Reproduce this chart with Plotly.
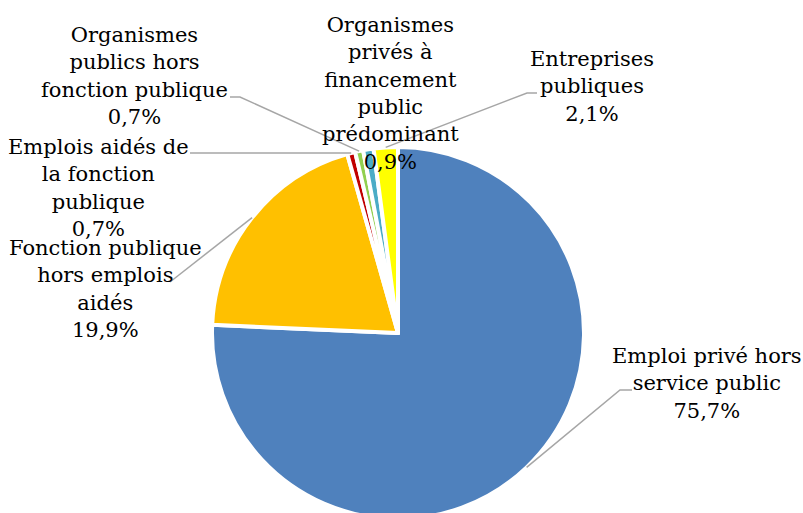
import math
import plotly.graph_objects as go

# Répartition de l'emploi selon le type d'employeur (en %)
categories = [
    "Emploi privé hors service public",
    "Fonction publique hors emplois aidés",
    "Emplois aidés de la fonction publique",
    "Organismes publics hors fonction publique",
    "Organismes privés à financement public prédominant",
    "Entreprises publiques",
]
shares = [75.7, 19.9, 0.7, 0.7, 0.9, 2.1]
wrapped_names = [
    ["Emploi privé hors", "service public"],
    ["Fonction publique", "hors emplois", "aidés"],
    ["Emplois aidés de", "la fonction", "publique"],
    ["Organismes", "publics hors", "fonction publique"],
    ["Organismes", "privés à", "financement", "public", "prédominant"],
    ["Entreprises", "publiques"],
]
colors = ["#4F81BD", "#FFC000", "#C00000", "#92D050", "#4BACC6", "#FFFF00"]

W, H = 803, 521
CX, CY, R = 398, 333, 186

# Label anchors (pixels) and leader-line bends; None = no leader line
label_pos = [(707, 383), (105, 289), (98, 188), (134, 76), (390, 93), (592, 86)]
leader_bends = [
    [(620, 390), (632, 390)],
    [(170, 282)],
    [(190, None)],
    [(240, 97), (230, 97)],
    None,
    [(527, 93), (537, 93)],
]

fig = go.Figure()
fig.add_trace(go.Pie(
    labels=categories,
    values=shares,
    sort=False,
    direction="clockwise",
    rotation=0,
    marker=dict(colors=colors, line=dict(color="white", width=4)),
    textinfo="none",
    hoverinfo="label+percent",
    showlegend=False,
    domain=dict(x=[(CX - R) / W, (CX + R) / W],
                y=[(H - CY - R) / H, (H - CY + R) / H]),
))

def fmt(v):
    return f"{v:.1f}".replace(".", ",") + "%"

total = sum(shares)
cum = 0.0
for i, v in enumerate(shares):
    mid = (cum + v / 2) / total * 2 * math.pi
    cum += v
    sx = CX + R * math.sin(mid)
    sy = CY - R * math.cos(mid)
    lx, ly = label_pos[i]
    fig.add_annotation(
        x=lx, y=ly, xref="x", yref="y",
        text="<br>".join(wrapped_names[i] + [fmt(v)]),
        showarrow=False, align="center", xanchor="center", yanchor="middle",
        font=dict(family="DejaVu Serif", size=21, color="#000000"),
    )
    bends = leader_bends[i]
    if bends:
        pts = [(sx, sy)] + [(bx, sy if by is None else by) for bx, by in bends]
        path = "M " + " L ".join(f"{x:.1f},{y:.1f}" for x, y in pts)
        fig.add_shape(type="path", path=path, xref="x", yref="y",
                      line=dict(color="#A6A6A6", width=1.5), layer="above")

fig.update_layout(
    width=W, height=H,
    margin=dict(l=0, r=0, t=0, b=0),
    paper_bgcolor="white", plot_bgcolor="rgba(0,0,0,0)",
    xaxis=dict(range=[0, W], visible=False, fixedrange=True),
    yaxis=dict(range=[H, 0], visible=False, fixedrange=True),
)

fig.write_html(
    "out.html",
    post_script="document.body.style.margin='0';document.body.style.overflow='hidden';",
)
